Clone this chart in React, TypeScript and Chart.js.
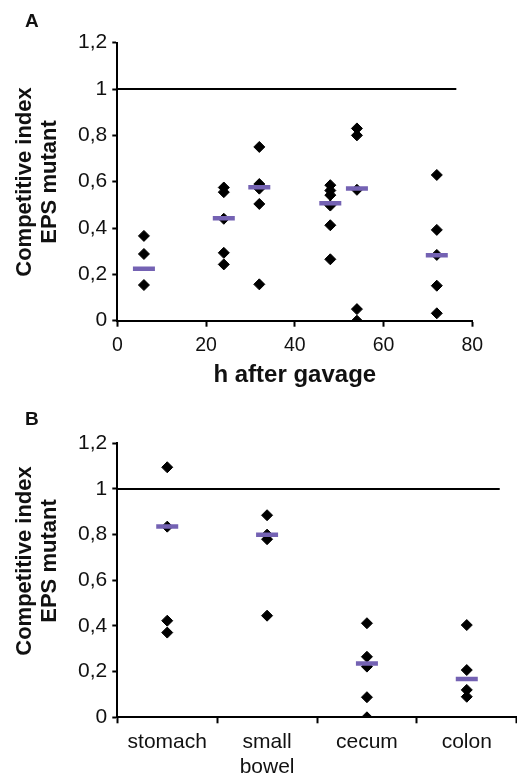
import React, { useEffect, useRef } from 'react';
import { Chart, registerables } from 'chart.js';

Chart.register(...registerables);

// ---------- Panel A data ----------
const hoursA = [6, 24, 32, 48, 54, 72];
const valuesA6 = [0.366, 0.288, 0.154];
const valuesA24 = [0.575, 0.555, 0.44, 0.293, 0.243];
const valuesA32 = [0.75, 0.59, 0.57, 0.504, 0.157];
const valuesA48 = [0.585, 0.562, 0.542, 0.497, 0.412, 0.265];
const valuesA54 = [0.83, 0.8, 0.565, 0.05, 0.0];
const valuesA72 = [0.629, 0.392, 0.284, 0.151, 0.032];
const groupsA = [valuesA6, valuesA24, valuesA32, valuesA48, valuesA54, valuesA72];
const meansA = [0.224, 0.442, 0.576, 0.507, 0.571, 0.282];
const xTicksA = [0, 20, 40, 60, 80];
const refLineAX = [0, 76.4];

// ---------- Panel B data ----------
const organs = ['stomach', 'small bowel', 'cecum', 'colon'];
const valuesStomach = [1.095, 0.835, 0.423, 0.371];
const valuesSmallBowel = [0.885, 0.8, 0.78, 0.445];
const valuesCecum = [0.412, 0.265, 0.222, 0.088, 0.0];
const valuesColon = [0.404, 0.207, 0.12, 0.09];
const groupsB = [valuesStomach, valuesSmallBowel, valuesCecum, valuesColon];
const meansB = [0.836, 0.8, 0.236, 0.168];
const refLineBX = [-0.5, 3.33];

// ---------- shared ----------
const refY = 1;
const yTicks = [0, 0.2, 0.4, 0.6, 0.8, 1, 1.2];
const yTickLabels = ['0', '0,2', '0,4', '0,6', '0,8', '1', '1,2'];
const yTitle = ['Competitive index', 'EPS mutant'];

const FONT = '"Liberation Sans", Arial, Helvetica, sans-serif';
const PURPLE = '#7462b3';
const TEXT = '#111';

const yTitlePlugin = {
  id: 'yTitle',
  afterDraw(chart: any, _args: any, opts: any) {
    const { ctx } = chart;
    ctx.save();
    ctx.translate(opts.x, opts.y);
    ctx.rotate(-Math.PI / 2);
    ctx.font = `bold ${opts.size}px ${FONT}`;
    ctx.fillStyle = TEXT;
    ctx.textAlign = 'center';
    ctx.textBaseline = 'middle';
    (opts.lines as string[]).forEach((t, i) => ctx.fillText(t, 0, i * opts.lineHeight));
    ctx.restore();
  },
};

function yScale(width: number) {
  return {
    type: 'linear',
    min: 0,
    max: 1.2,
    afterBuildTicks: (s: any) => {
      s.ticks = yTicks.map((v) => ({ value: v }));
    },
    afterFit: (s: any) => {
      s.width = width;
      s.paddingTop = 0;
      s.paddingBottom = 0;
    },
    ticks: {
      font: { family: FONT, size: 21 },
      color: TEXT,
      padding: 5,
      callback: (_v: any, i: number) => yTickLabels[i],
    },
    grid: {
      drawOnChartArea: false,
      drawTicks: true,
      tickLength: 5,
      tickColor: '#000',
      tickWidth: 2,
    },
    border: { display: true, color: '#000', width: 2 },
    title: { display: false },
  };
}

function meanDataset(data: { x: number; y: number }[]) {
  return {
    label: 'mean',
    data,
    showLine: false,
    pointStyle: 'line',
    pointRadius: 11,
    pointHoverRadius: 11,
    pointBorderColor: PURPLE,
    pointBackgroundColor: PURPLE,
    pointBorderWidth: 4.5,
    pointHoverBorderWidth: 4.5,
  };
}

function valueDataset(data: { x: number; y: number }[]) {
  return {
    label: 'values',
    data,
    showLine: false,
    pointStyle: 'rectRot',
    pointRadius: 5.5,
    pointHoverRadius: 5.5,
    pointBackgroundColor: '#000',
    pointBorderColor: '#000',
    pointBorderWidth: 1,
  };
}

function refDataset(xs: number[]) {
  return {
    label: 'ref',
    data: xs.map((x) => ({ x, y: refY })),
    showLine: true,
    borderColor: '#000',
    borderWidth: 2,
    pointRadius: 0,
    pointHoverRadius: 0,
  };
}

export default function App() {
  const refA = useRef<HTMLCanvasElement>(null);
  const refB = useRef<HTMLCanvasElement>(null);

  useEffect(() => {
    const chartA = new Chart(refA.current as HTMLCanvasElement, {
      type: 'scatter',
      data: {
        datasets: [
          meanDataset(hoursA.map((h, i) => ({ x: h, y: meansA[i] }))),
          valueDataset(groupsA.flatMap((g, i) => g.map((v) => ({ x: hoursA[i], y: v })))),
          refDataset(refLineAX),
        ] as any,
      },
      options: {
        animation: false,
        responsive: false,
        events: [],
        layout: { autoPadding: false, padding: { left: 0, right: 44.7, top: 42.7, bottom: 0 } },
        plugins: {
          legend: { display: false },
          tooltip: { enabled: false },
          yTitle: { x: 25, y: 182, size: 22, lineHeight: 25, lines: yTitle },
        } as any,
        scales: {
          x: {
            type: 'linear',
            min: 0,
            max: 80,
            afterBuildTicks: (s: any) => {
              s.ticks = xTicksA.map((v) => ({ value: v }));
            },
            afterFit: (s: any) => {
              s.height = 74.3;
              s.paddingLeft = 0;
              s.paddingRight = 0;
            },
            ticks: {
              font: { family: FONT, size: 19.5 },
              color: TEXT,
              padding: 7,
              maxRotation: 0,
              callback: (v: any) => String(v),
            },
            grid: {
              drawOnChartArea: false,
              drawTicks: true,
              tickLength: 6,
              tickColor: '#000',
              tickWidth: 2,
            },
            border: { display: true, color: '#000', width: 2 },
            title: {
              display: true,
              text: 'h after gavage',
              color: TEXT,
              font: { family: FONT, size: 24, weight: 'bold', lineHeight: 1.2 },
              padding: { top: 0, bottom: 5 },
            },
          },
          y: yScale(117.3),
        } as any,
      },
      plugins: [yTitlePlugin],
    });

    const chartB = new Chart(refB.current as HTMLCanvasElement, {
      type: 'scatter',
      data: {
        datasets: [
          meanDataset(meansB.map((m, i) => ({ x: i, y: m }))),
          valueDataset(groupsB.flatMap((g, i) => g.map((v) => ({ x: i, y: v })))),
          refDataset(refLineBX),
        ] as any,
      },
      options: {
        animation: false,
        responsive: false,
        events: [],
        layout: { autoPadding: false, padding: { left: 0, right: 0.3, top: 48.3, bottom: 0 } },
        plugins: {
          legend: { display: false },
          tooltip: { enabled: false },
          yTitle: { x: 25, y: 166, size: 22, lineHeight: 25, lines: yTitle },
        } as any,
        scales: {
          x: {
            type: 'linear',
            min: -0.5,
            max: 3.5,
            afterBuildTicks: (s: any) => {
              s.ticks = organs.map((_o, i) => ({ value: i }));
            },
            afterFit: (s: any) => {
              s.height = 57.7;
              s.paddingLeft = 0;
              s.paddingRight = 0;
            },
            ticks: {
              font: { family: FONT, size: 21, lineHeight: 1.19 },
              color: TEXT,
              padding: 6,
              maxRotation: 0,
              autoSkip: false,
              callback: (_v: any, i: number) => organs[i].split(' '),
            },
            grid: {
              offset: true,
              drawOnChartArea: false,
              drawTicks: true,
              tickLength: 6,
              tickColor: '#000',
              tickWidth: 2,
            },
            border: { display: true, color: '#000', width: 2 },
            title: { display: false },
          },
          y: yScale(117.3),
        } as any,
      },
      plugins: [yTitlePlugin],
    });

    return () => {
      chartA.destroy();
      chartB.destroy();
    };
  }, []);

  const panelLabel: React.CSSProperties = {
    position: 'absolute',
    left: 25,
    font: `bold 19px ${FONT}`,
    lineHeight: '19px',
    color: TEXT,
  };

  return (
    <div style={{ position: 'absolute', left: 0, top: 0, width: 517, height: 775, background: '#fff', overflow: 'hidden' }}>
      <canvas ref={refA} width={517} height={395} style={{ position: 'absolute', left: 0, top: 0, width: 517, height: 395 }} />
      <canvas ref={refB} width={517} height={380} style={{ position: 'absolute', left: 0, top: 395, width: 517, height: 380 }} />
      <div style={{ ...panelLabel, top: 11 }}>A</div>
      <div style={{ ...panelLabel, top: 409 }}>B</div>
    </div>
  );
}
